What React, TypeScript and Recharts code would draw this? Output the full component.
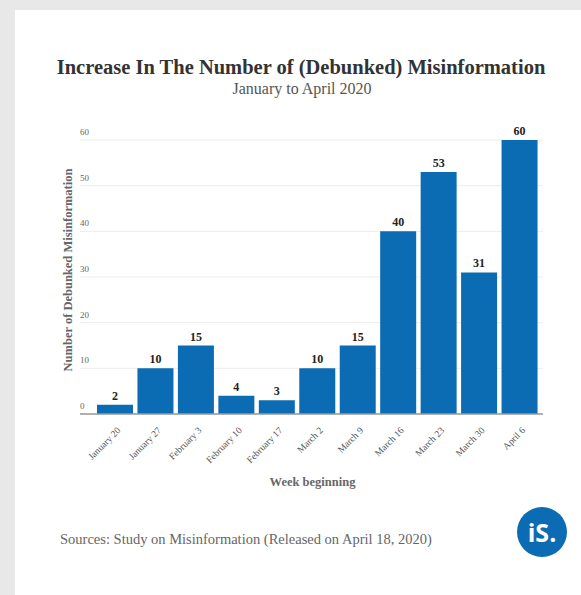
import React from "react";
import { BarChart, Bar, XAxis, YAxis, CartesianGrid, LabelList } from "recharts";

const weeks = [
  "January 20", "January 27", "February 3", "February 10", "February 17",
  "March 2", "March 9", "March 16", "March 23", "March 30", "April 6",
];
const counts = [2, 10, 15, 4, 3, 10, 15, 40, 53, 31, 60];
const yTicks = [0, 10, 20, 30, 40, 50, 60];

const data = weeks.map((w, i) => ({ week: w, value: counts[i] }));

const SERIF = "'Liberation Serif', 'DejaVu Serif', serif";
const BLUE = "#0b6cb3";

const YTick = (props: any) => {
  const { x, y, payload } = props;
  return (
    <text x={x} y={y - 5} textAnchor="start" fontSize={9} fill="#666" fontFamily={SERIF}>
      {payload.value}
    </text>
  );
};

const XTick = (props: any) => {
  const { x, y, payload } = props;
  return (
    <g transform={`translate(${x + 6},${y + 9})`}>
      <text x={0} y={0} textAnchor="end" fontSize={9.5} fill="#555" fontFamily={SERIF} transform="rotate(-45)">
        {payload.value}
      </text>
    </g>
  );
};

export default function App() {
  return (
    <div style={{ position: "fixed", left: 0, top: 0, width: 581, height: 595, background: "#e8e8e8", overflow: "hidden" }}>
      <div style={{ position: "absolute", left: 15, top: 10, width: 566, height: 585, background: "#ffffff" }} />
      <div style={{ position: "absolute", left: 0, top: 0 }}>
        <BarChart
          width={581}
          height={595}
          data={data}
          margin={{ top: 140, right: 38, bottom: 121, left: 50 }}
          barCategoryGap={2}
        >
          <CartesianGrid horizontal vertical={false} stroke="#ececec" />
          <YAxis
            width={30}
            domain={[0, 60]}
            ticks={yTicks}
            axisLine={false}
            tickLine={false}
            tickSize={0}
            tickMargin={0}
            tick={<YTick />}
          />
          <XAxis
            dataKey="week"
            height={60}
            interval={0}
            padding={{ left: 15, right: 3 }}
            axisLine={{ stroke: "#999", strokeWidth: 1.5 }}
            tickLine={false}
            tick={<XTick />}
          />
          <Bar dataKey="value" fill={BLUE} isAnimationActive={false}>
            <LabelList dataKey="value" position="top" offset={5} fontSize={12} fontWeight="bold" fill="#222" fontFamily={SERIF} />
          </Bar>
        </BarChart>
      </div>
      <div style={{ position: "absolute", left: 0, width: 602, top: 56, textAlign: "center", fontFamily: SERIF, fontWeight: "bold", fontSize: 20.5, color: "#333", whiteSpace: "nowrap" }}>
        Increase In The Number of (Debunked) Misinformation
      </div>
      <div style={{ position: "absolute", left: 0, width: 604, top: 80, textAlign: "center", fontFamily: SERIF, fontSize: 16, color: "#555", whiteSpace: "nowrap" }}>
        January to April 2020
      </div>
      <div style={{ position: "absolute", left: 68, top: 270, width: 0, height: 0 }}>
        <div style={{ position: "absolute", left: 0, top: 0, transform: "translate(-50%,-50%) rotate(-90deg)", fontFamily: SERIF, fontWeight: "bold", fontSize: 12.5, color: "#666", whiteSpace: "nowrap" }}>
          Number of Debunked Misinformation
        </div>
      </div>
      <div style={{ position: "absolute", left: 0, width: 625, top: 475, textAlign: "center", fontFamily: SERIF, fontWeight: "bold", fontSize: 12.5, color: "#666", whiteSpace: "nowrap" }}>
        Week beginning
      </div>
      <div style={{ position: "absolute", left: 60, top: 531, fontFamily: SERIF, fontSize: 14.5, color: "#666", whiteSpace: "nowrap" }}>
        Sources: Study on Misinformation (Released on April 18, 2020)
      </div>
      <div style={{ position: "absolute", left: 517, top: 507, width: 50, height: 50, borderRadius: 25, background: BLUE, color: "#fff", fontFamily: "'Open Sans', sans-serif", fontWeight: "bold", fontSize: 25, display: "flex", alignItems: "center", justifyContent: "center" }}>
        iS.
      </div>
    </div>
  );
}
